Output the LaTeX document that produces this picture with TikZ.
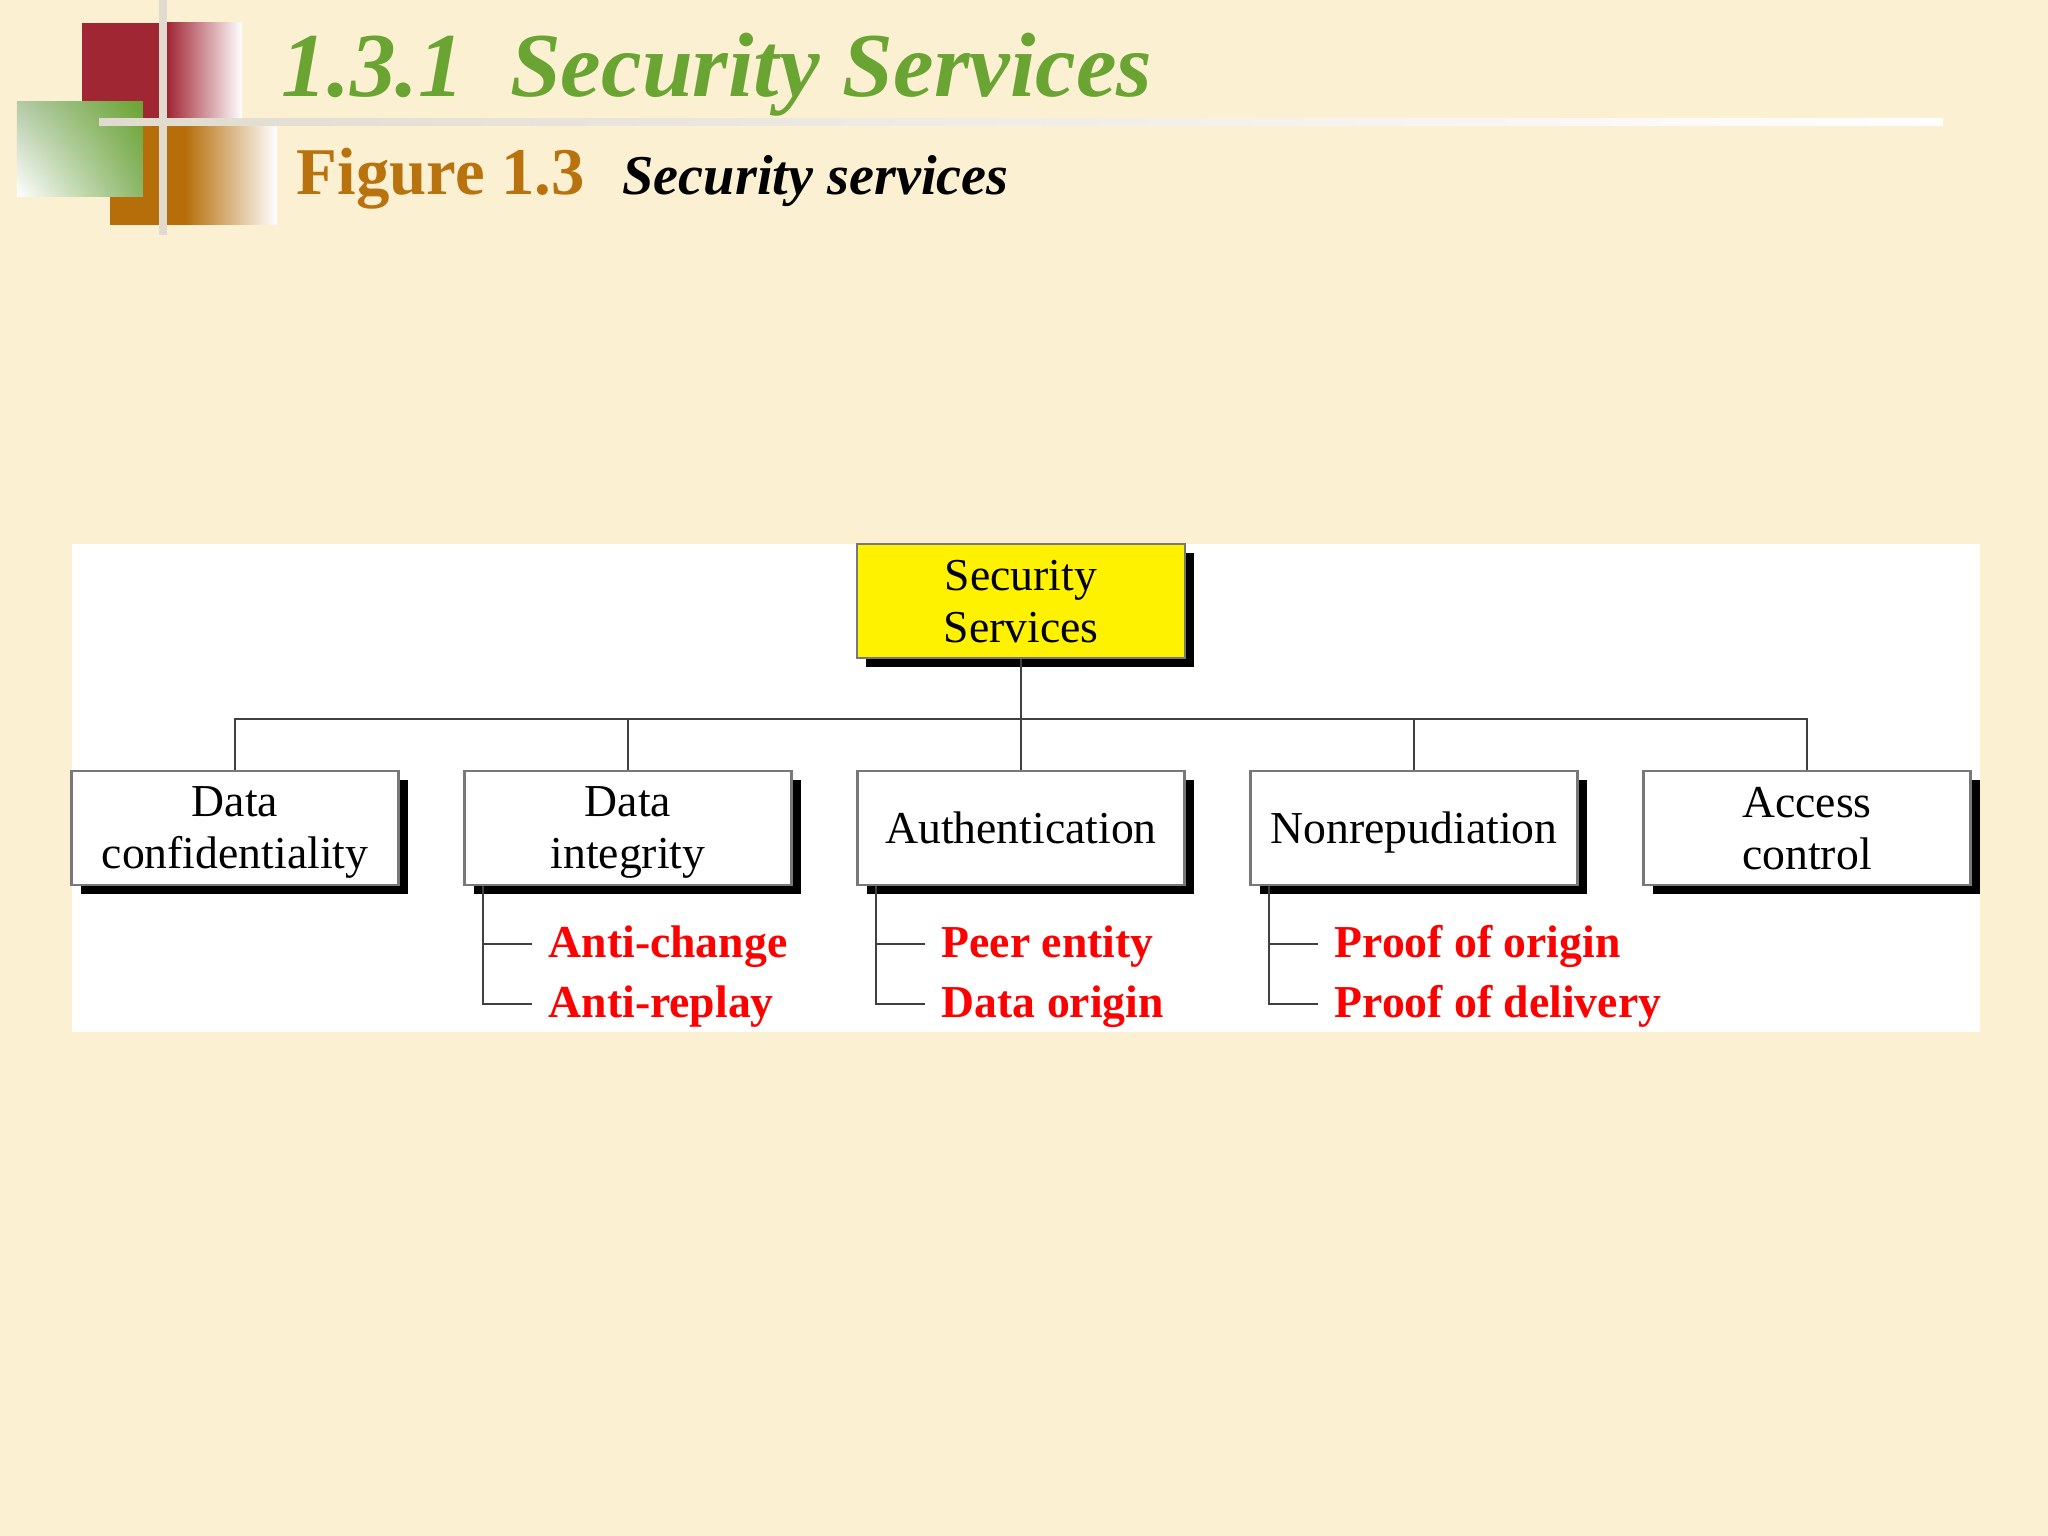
\documentclass[tikz,border=0pt]{standalone}
\usepackage{fontspec}
\setmainfont{Liberation Serif}
\usetikzlibrary{shadows,shadings}

\definecolor{paper}{RGB}{252,240,210}
\definecolor{logored}{RGB}{160,38,52}
\definecolor{logoorange}{RGB}{181,110,10}
\definecolor{logogreen}{RGB}{106,164,50}
\definecolor{greenpale}{RGB}{180,202,168}
\definecolor{greenmid}{RGB}{140,182,105}
\definecolor{barcolor}{RGB}{224,219,206}
\definecolor{titlegreen}{RGB}{106,164,50}
\definecolor{figorange}{RGB}{184,114,14}
\definecolor{edgegray}{RGB}{120,120,120}

\tikzset{
  service/.style={draw=edgegray, line width=0.6pt, fill=white, minimum width=3.27cm, minimum height=1.14cm,
    align=center, inner sep=0pt, text depth=0pt, font=\fontsize{13}{14.8}\selectfont,
    drop shadow={shadow xshift=0.09cm, shadow yshift=-0.09cm, fill=black, opacity=1}},
  mechanism/.style={anchor=west, inner xsep=0.16cm, inner ysep=0pt, text height=0.36cm, text depth=0.1cm,
    text=red, font=\fontsize{13}{14.8}\selectfont\bfseries},
  branch/.style={draw=black!75, line width=0.6pt}
}

\begin{document}
\begin{tikzpicture}
    \useasboundingbox (0,0) rectangle (20.48,-15.36);
    \fill[paper] (0,0) rectangle (20.48,-15.36);

    % Logo
    \fill[logored] (0.82,-0.23) rectangle (1.67,-1.18);
    \shade[left color=logored, right color=white] (1.67,-0.23) rectangle (2.42,-1.18);
    \fill[logoorange] (1.10,-1.26) rectangle (1.85,-2.25);
    \shade[left color=logoorange, right color=white] (1.85,-1.26) rectangle (2.77,-2.25);
    \shade[upper left=greenpale, upper right=logogreen, lower left=white, lower right=greenmid]
      (0.17,-1.02) rectangle (1.43,-1.97);
    \fill[barcolor] (1.59,0) rectangle (1.67,-2.35);
    \shade[left color=barcolor, right color=white] (0.99,-1.19) rectangle (19.43,-1.26);

    % Titles
    \node[anchor=base west, inner sep=0pt, text=titlegreen, font=\fontsize{26}{30}\selectfont\bfseries\itshape] (title) at (2.81,-0.97) {1.3.1\enspace Security Services};
    \node[anchor=base west, inner sep=0pt, text=figorange, font=\fontsize{19}{22}\selectfont\bfseries] (fig) at (2.96,-1.95) {Figure 1.3};
    \node[anchor=base west, inner sep=0pt, font=\fontsize{16}{19}\selectfont\bfseries\itshape] (caption) at (6.22,-1.95) {Security services};

    % Panel
    \fill[white] (0.72,-5.44) rectangle (19.80,-10.32);

    % Nodes
    \node[service, fill=yellow, minimum width=3.28cm] (sec) at (10.21,-6.01) {Security\\Services};
    \node[service] (conf) at (2.35,-8.28) {Data\\confidentiality};
    \node[service] (integ) at (6.28,-8.28) {Data\\integrity};
    \node[service] (auth) at (10.21,-8.28) {Authentication};
    \node[service] (nonrep) at (14.14,-8.28) {Nonrepudiation};
    \node[service] (acc) at (18.07,-8.28) {Access\\control};

    \node[mechanism] (achg) at (5.32,-9.44) {Anti-change};
    \node[mechanism] (arep) at (5.32,-10.04) {Anti-replay};
    \node[mechanism] (peer) at (9.25,-9.44) {Peer entity};
    \node[mechanism] (dorig) at (9.25,-10.04) {Data origin};
    \node[mechanism] (porig) at (13.18,-9.44) {Proof of origin};
    \node[mechanism] (pdel) at (13.18,-10.04) {Proof of delivery};

    % Connection
    \coordinate (bus) at (10.21,-7.19);
    \draw[branch] (sec.south) -- (bus);
    \foreach \n in {conf,integ,auth,nonrep,acc}
      \draw[branch] (\n.north) |- (bus);
    \draw[branch] ([xshift=0.195cm]integ.south west) |- (achg.west);
    \draw[branch] ([xshift=0.195cm]integ.south west) |- (arep.west);
    \draw[branch] ([xshift=0.195cm]auth.south west) |- (peer.west);
    \draw[branch] ([xshift=0.195cm]auth.south west) |- (dorig.west);
    \draw[branch] ([xshift=0.195cm]nonrep.south west) |- (porig.west);
    \draw[branch] ([xshift=0.195cm]nonrep.south west) |- (pdel.west);
\end{tikzpicture}
\end{document}
